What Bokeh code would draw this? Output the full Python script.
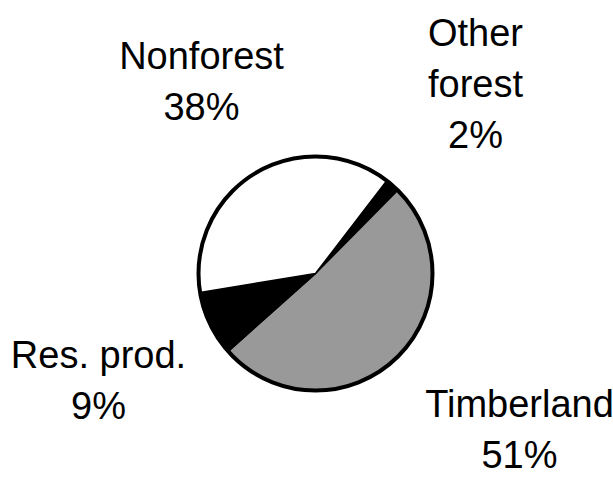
import numpy as np
from bokeh.plotting import figure
from bokeh.models import Range1d, ColumnDataSource
from bokeh.core.properties import value
from bokeh.embed import file_html
from bokeh.resources import INLINE

# ---- data (clockwise order starting at upper right) ----
categories = ["Other forest", "Timberland", "Res. prod.", "Nonforest"]
shares = [2, 51, 9, 38]
slice_colors = ["#000000", "#999999", "#000000", "#ffffff"]

# label lines (name lines, then percent)
label_names = [["Other", "forest"], ["Timberland"], ["Res. prod."], ["Nonforest"]]

# ---- layout (pixel-like data coordinates) ----
W, H = 613, 478
cx, cy, R = 315, 205, 117
start_deg = 37.5  # clockwise from 12 o'clock
line_h = 51
shift = 14
# anchor: (x center, baseline of last line = percent line)
label_anchor = [(475, 330 + shift), (519, 10 + shift), (98, 59 + shift), (201, 358 + shift)]

p = figure(width=W, height=H, x_range=Range1d(0, W), y_range=Range1d(0, H),
           output_backend="svg", toolbar_location=None, min_border=0,
           x_axis_location=None, y_axis_location=None)
p.outline_line_color = None
p.grid.visible = False
p.background_fill_color = "white"
p.border_fill_color = "white"

vals = np.array(shares, dtype=float)
frac = vals / vals.sum()
cum = np.concatenate([[0], np.cumsum(frac)]) * 360.0
theta1 = start_deg + cum[:-1]
theta2 = start_deg + cum[1:]
src = ColumnDataSource(dict(
    x=[cx] * len(vals), y=[cy] * len(vals),
    start=list(90 - theta1), end=list(90 - theta2),
    color=slice_colors, cat=categories))
p.wedge(x="x", y="y", radius=R, start_angle="start", end_angle="end",
        start_angle_units="deg", end_angle_units="deg", direction="clock",
        fill_color="color", line_color="black", line_width=1.5, source=src)
p.circle(x=[cx], y=[cy], radius=R, fill_color=None, line_color="black", line_width=4)

tx, ty, tt = [], [], []
for names, share, (ax, ay) in zip(label_names, shares, label_anchor):
    lines = names + [f"{share}%"]
    n = len(lines)
    for i, ln in enumerate(lines):
        tx.append(ax)
        ty.append(ay + (n - 1 - i) * line_h)
        tt.append(ln)
p.text(x=tx, y=ty, text=tt, text_align="center", text_baseline="alphabetic",
       text_font=value("Liberation Sans"), text_font_size="38px", text_color="black")

open("out.html", "w").write(file_html(p, INLINE))
